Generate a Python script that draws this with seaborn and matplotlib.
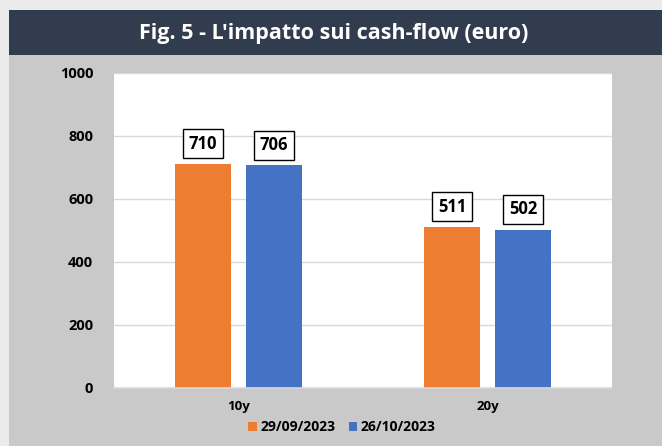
import matplotlib
matplotlib.use("Agg")
import matplotlib.pyplot as plt
import seaborn as sns
import pandas as pd
from matplotlib.patches import Rectangle

categories = ["10y", "20y"]
series_names = ["29/09/2023", "26/10/2023"]
values_sep = [710, 511]
values_oct = [706, 502]
colors = ["#ED7D31", "#4472C4"]
title = "Fig. 5 - L'impatto sui cash-flow (euro)"
yticks = [0, 200, 400, 600, 800, 1000]

df = pd.DataFrame({
    "cat": categories * 2,
    "serie": [series_names[0]] * 2 + [series_names[1]] * 2,
    "val": values_sep + values_oct,
})

sns.set_theme(style="white")
plt.rcParams["font.family"] = ["Open Sans", "DejaVu Sans"]
plt.rcParams["text.color"] = "black"
plt.rcParams["xtick.color"] = "black"
plt.rcParams["ytick.color"] = "black"

W, H = 662, 446
fig = plt.figure(figsize=(W / 100, H / 100), dpi=100)
fig.patch.set_facecolor("#ebebeb")

# panel and header
fig.patches.append(Rectangle((9 / W, 0), 1 - 9 / W, (H - 55) / H, transform=fig.transFigure,
                             facecolor="#c9c9c9", edgecolor="none", zorder=-5))
fig.patches.append(Rectangle((9 / W, (H - 55) / H), 1 - 9 / W, 45 / H, transform=fig.transFigure,
                             facecolor="#323c4f", edgecolor="none", zorder=-5))
fig.text((9 + W) / 2 / W - 0.003, 1 - 33 / H, title, color="white", fontsize=15.5, fontweight="bold",
         ha="center", va="center")

left, right = 114 / W, 612 / W
bottom, top = (H - 387.7) / H, (H - 72.7) / H
ax = fig.add_axes([left, bottom, right - left, top - bottom])
ax.set_facecolor("white")

sns.barplot(data=df, x="cat", y="val", hue="serie", palette=colors, width=0.57, gap=0.21,
            ax=ax, legend=True, saturation=1, edgecolor="none")

ax.set_ylim(0, 1000)
ax.set_xlim(-0.5, 1.5)
ax.set_yticks(yticks)
ax.set_yticklabels([str(t) for t in yticks], fontsize=10.5, fontweight="bold", color="black")
ax.tick_params(axis="y", length=0, pad=15)
ax.tick_params(axis="x", length=0, pad=9, labelsize=9.5)
for lab in ax.get_xticklabels():
    lab.set_fontweight("bold")
    lab.set_color("black")
ax.set_xlabel("")
ax.set_ylabel("")
ax.grid(axis="y", color="#d9d9d9", linewidth=1)
ax.set_axisbelow(True)
for s in ["left", "right", "top"]:
    ax.spines[s].set_visible(False)
ax.spines["bottom"].set_color("#d9d9d9")
ax.spines["bottom"].set_linewidth(1.2)

for cont in ax.containers:
    for bar in cont:
        h = bar.get_height()
        ax.annotate(f"{h:.0f}", (bar.get_x() + bar.get_width() / 2, h), xytext=(0, 14.5),
                    textcoords="offset points", ha="center", va="center", fontsize=12,
                    fontweight="bold", color="black",
                    bbox=dict(boxstyle="square,pad=0.33", fc="white", ec="black", lw=1))

leg = ax.legend(loc="center", bbox_to_anchor=(0.458, -0.125), ncol=2, frameon=False,
                prop={"size": 10, "weight": "bold"}, handlelength=0.6, handleheight=0.6,
                handletextpad=0.25, columnspacing=1.0)
leg.set_title(None)
for t in leg.get_texts():
    t.set_color("black")

fig.savefig("out.png", dpi=100, facecolor=fig.get_facecolor())
